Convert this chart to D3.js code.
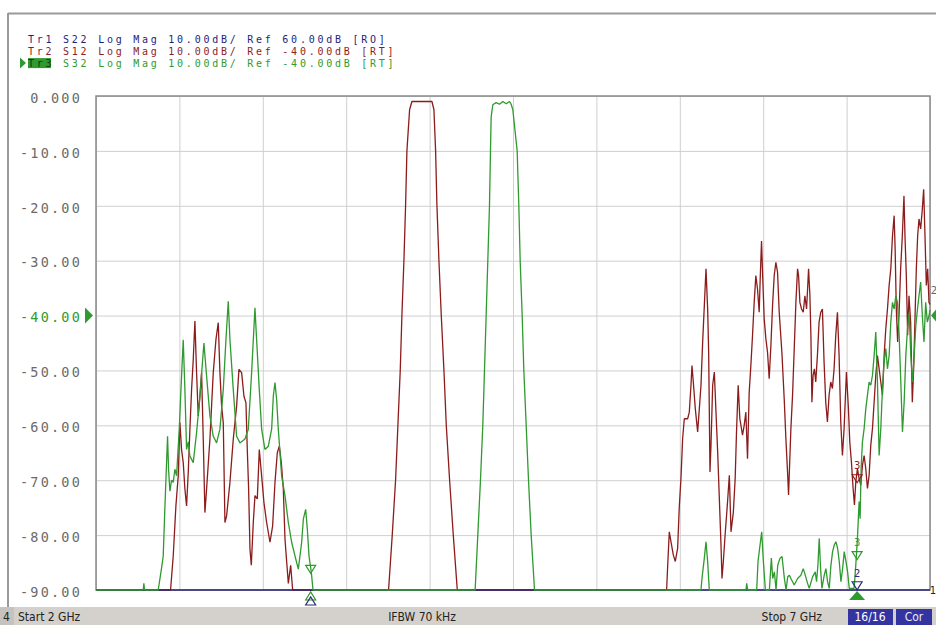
<html>
<head>
    <script src="https://d3js.org/d3.v7.min.js"></script>
</head>
<style>
    body { margin: 0; background: #fff; }
    .gridlines line { stroke: #cfcfcf; }
    .gridlines .domain { stroke: none; }
    .y-axis .domain { stroke: none; }
    .y-axis text { font-family: "DejaVu Sans Mono"; font-size: 13.5px; letter-spacing: 2.2px; fill: #6a6a6a; }
</style>
<body>
<svg width="936" height="625" id="vna"></svg>
<script>
// ---- data (GHz, dB) ----
const startGHz = 2, stopGHz = 7;
const yTicks = [0, -10, -20, -30, -40, -50, -60, -70, -80, -90];
const xGrid = [2, 2.5, 3, 3.5, 4, 4.5, 5, 5.5, 6, 6.5, 7];

const headerNames = ["Tr1", "Tr2", "Tr3"];
const headerLines = [
    " S22 Log Mag 10.00dB/ Ref 60.00dB [RO]",
    " S12 Log Mag 10.00dB/ Ref -40.00dB [RT]",
    " S32 Log Mag 10.00dB/ Ref -40.00dB [RT]"
];
const headerColors = ["#1d1f78", "#8c1c1c", "#2f9a2f"];

// Tr1 S22 sits off the bottom of the screen
const tr1Freq = [2, 7];
const tr1Db = [-90, -90];

// Tr2 S12 (dark red)
const tr2Freq = [2.0, 2.447, 2.463, 2.479, 2.493, 2.503, 2.513, 2.523, 2.533, 2.543, 2.553, 2.563, 2.573, 2.583, 2.593, 2.603, 2.613, 2.623, 2.633, 2.643, 2.653, 2.663, 2.683, 2.703, 2.719, 2.733, 2.743, 2.753, 2.763, 2.773, 2.783, 2.803, 2.823, 2.843, 2.857, 2.873, 2.887, 2.899, 2.907, 2.915, 2.923, 2.931, 2.943, 2.953, 2.967, 2.979, 2.993, 3.007, 3.023, 3.043, 3.059, 3.073, 3.087, 3.099, 3.111, 3.123, 3.133, 3.143, 3.153, 3.167, 3.179,
    3.754, 3.776, 3.796, 3.810, 3.824, 3.834, 3.846, 3.856, 3.864, 3.880, 3.894, 4.014, 4.026, 4.036, 4.044, 4.056, 4.070, 4.086, 4.100, 4.120, 4.142, 4.166,
    5.421, 5.427, 5.437, 5.447, 5.461, 5.473, 5.487, 5.497, 5.507, 5.517, 5.527, 5.547, 5.557, 5.567, 5.573, 5.581, 5.593, 5.607, 5.617, 5.627, 5.637, 5.647, 5.657, 5.667, 5.673, 5.681, 5.687, 5.697, 5.707, 5.717, 5.727, 5.737, 5.747, 5.753, 5.761, 5.773, 5.785, 5.797, 5.807, 5.821, 5.832, 5.840, 5.850, 5.860, 5.876, 5.886, 5.896, 5.906, 5.916, 5.926, 5.936, 5.946, 5.956, 5.966, 5.976, 5.982, 5.990, 5.996, 6.006, 6.016, 6.026, 6.036, 6.046, 6.056, 6.066, 6.076, 6.086, 6.096, 6.112, 6.126, 6.136, 6.146, 6.152,
    6.166, 6.176, 6.186, 6.196, 6.206, 6.212, 6.220, 6.230, 6.240, 6.250, 6.260, 6.266, 6.272, 6.280, 6.286, 6.292, 6.299, 6.307, 6.315, 6.325, 6.335, 6.345, 6.355, 6.365, 6.375, 6.385, 6.395, 6.405, 6.415, 6.425, 6.435, 6.445, 6.455, 6.465, 6.475, 6.485, 6.499, 6.511, 6.519, 6.529, 6.539, 6.547, 6.555, 6.565, 6.575, 6.585, 6.595, 6.605, 6.615, 6.625, 6.635, 6.645, 6.655, 6.665, 6.675, 6.685, 6.695, 6.705, 6.715, 6.725, 6.735, 6.745, 6.755, 6.765, 6.775, 6.785, 6.791, 6.798, 6.806, 6.814, 6.824, 6.834, 6.844, 6.850, 6.858, 6.866, 6.874, 6.884, 6.894, 6.902, 6.910, 6.918, 6.926, 6.934, 6.944, 6.954, 6.962, 6.970, 6.978, 6.986, 6.994, 7.0];
const tr2Db = [-90, -90, -83.8, -74.7, -69.2, -59.5, -64.4, -66.8, -71.6, -74.7, -68.6, -60.7, -53.5, -48, -41, -50.4, -58.3, -54.7, -50.4, -62.5, -75.9, -71.6, -62.5, -50.4, -44.4, -41.3, -50.4, -56.5, -59.5, -77.7, -76.5, -70.4, -62.5, -56.5, -49.8, -50.4, -54.7, -55.9, -64.4, -71.6, -82.5, -85.5, -77.7, -72.8, -73.4, -64.4, -69.2, -74.1, -77.7, -81.3, -78.3, -70.4, -65, -63.8, -66.8, -71.6, -80.7, -84.8, -88.8, -85.5, -90,
    -90, -80, -70, -60, -50, -40, -30, -20, -10, -2.5, -1.0, -1.0, -2.5, -10, -20, -30, -40, -50, -60, -70, -80, -90,
    -90, -85.8, -79.4, -81.2, -83.6, -84.8, -82.4, -74.8, -69.7, -62.4, -58.8, -58.8, -57.6, -52.7, -49.1, -52.1, -57, -61.2, -57, -52.7, -44.8, -38.2, -31.5, -38.8, -46.7, -68.5, -63.6, -52.7, -50.3, -57.6, -64.8, -73.3, -81.8, -87.9, -84.8, -79.4, -74.5, -69.1, -79.4, -75.8, -69.7, -61.2, -52.7, -58.8, -61.8, -60, -57.6, -66.1, -54, -49.1, -43.6, -37.6, -32.7, -35.2, -39.4, -33.3, -26.4, -32.1, -40.6, -44.2, -46.7, -51.5, -45.5, -38.2, -32.7, -30.3, -32.1, -39.4, -46.7, -55.2, -62.4, -68.5, -72.7,
    -60.6, -54.5, -46.1, -37.6, -31.5, -32.7, -37.6, -38.8, -39.4, -36.4, -38.8, -35.2, -31.5, -36.4, -43.6, -55.8, -50.9, -49.7, -52.1, -47.3, -41.2, -39.4, -38.8, -48.5, -55.8, -59.4, -54.5, -52.1, -53.3, -49.7, -43.6, -39.4, -47.3, -59.4, -65.5, -60.6, -50.3, -57, -63, -66.7, -71.5, -74.5, -70.3, -67.9, -69.7, -70.9, -67.3, -65.5, -67.9, -71.5, -69.1, -63.6, -60.6, -55.8, -50.9, -47.3, -49.7, -52.1, -54.5, -47.3, -42.4, -38.8, -34.5, -31.5, -25.5, -21.8, -27.9, -38.8, -44.8, -40, -31.5, -25.5, -18.2, -25.5, -32.7, -43.6, -36.4, -41.2, -55.8, -49.7, -40.6, -31.5, -25.5, -22.4, -24.2, -20.6, -17, -25.5, -34.5, -31.5, -37.6, -38];

// Tr3 S32 (green)
const tr3Freq = [2.0, 2.283, 2.287, 2.291, 2.373, 2.393, 2.403, 2.413, 2.423, 2.429, 2.435, 2.443, 2.453, 2.463, 2.473, 2.483, 2.499, 2.513, 2.523, 2.533, 2.543, 2.553, 2.563, 2.583, 2.603, 2.623, 2.647, 2.663, 2.683, 2.703, 2.723, 2.743, 2.763, 2.779, 2.793, 2.803, 2.823, 2.843, 2.863, 2.893, 2.913, 2.933, 2.953, 2.963, 2.979, 2.993, 3.013, 3.033, 3.053, 3.063, 3.073, 3.083, 3.093, 3.113, 3.133, 3.153, 3.173, 3.193, 3.213, 3.233, 3.243, 3.257, 3.267, 3.277, 3.291, 3.301,
    4.273, 4.289, 4.305, 4.319, 4.329, 4.339, 4.349, 4.359, 4.365, 4.369, 4.379, 4.399, 4.419, 4.439, 4.459, 4.479, 4.489, 4.499, 4.525, 4.535, 4.543, 4.555, 4.565, 4.579, 4.593, 4.609, 4.629,
    5.627, 5.633, 5.647, 5.657, 5.667, 5.677, 5.897, 5.901, 5.907, 5.961, 5.969, 5.981, 5.991, 6.001, 6.013, 6.037, 6.049, 6.057, 6.067, 6.077, 6.087, 6.101, 6.113, 6.127, 6.137, 6.147, 6.157,
    6.166, 6.186, 6.206, 6.226, 6.240, 6.252, 6.266, 6.276, 6.296, 6.312, 6.320, 6.328, 6.336, 6.344, 6.352, 6.366, 6.376, 6.386, 6.396, 6.406, 6.416, 6.426, 6.436, 6.446, 6.456, 6.466, 6.476, 6.486, 6.496, 6.506, 6.516, 6.545, 6.555, 6.565, 6.575, 6.581, 6.587, 6.595, 6.605, 6.615, 6.625, 6.635, 6.645, 6.655, 6.665, 6.675, 6.685, 6.695, 6.705, 6.715, 6.725, 6.735, 6.745, 6.755, 6.765, 6.775, 6.785, 6.795, 6.805, 6.815, 6.825, 6.835, 6.845, 6.855, 6.865, 6.875, 6.885, 6.895, 6.905, 6.915, 6.925, 6.934, 6.944, 6.954, 6.964, 6.974, 6.984, 6.994, 7.0];
const tr3Db = [-90, -90, -88.8, -90, -90, -86, -83.8, -75, -66.8, -62, -68, -72, -70, -70.4, -68, -69.2, -60.7, -51, -44.4, -53.5, -64.4, -63, -65.6, -66.8, -61.3, -54.7, -45, -51, -58.3, -62, -63.2, -60.7, -53.5, -44.4, -37.4, -44.4, -53.5, -62, -63.2, -62.5, -60.7, -50.4, -38.6, -44.4, -53.5, -60.7, -64.4, -63.8, -60.7, -54.7, -52.2, -55.3, -60.7, -69.2, -72.8, -77.7, -81.3, -83.8, -86.2, -81.3, -77.1, -75.3, -78.9, -83.8, -86.8, -90,
    -90, -80, -70, -60, -50, -40, -30, -20, -10, -3.8, -1.6, -1.2, -1.5, -1.0, -1.4, -1.0, -1.5, -2.5, -10, -20, -30, -40, -50, -60, -70, -80, -90,
    -90, -87.9, -84.2, -81.2, -84.8, -90, -90, -88.8, -90, -90, -84.8, -81.8, -79.4, -84.8, -90, -90, -84.2, -87.9, -86.7, -90, -85.5, -84.2, -83.9, -87.9, -90, -87.6, -87.3,
    -87.9, -89.1, -87.9, -87.3, -86.1, -87.3, -88.8, -89.7, -87.6, -86.7, -88.5, -85.5, -80.6, -86.1, -89.7, -87.3, -86.1, -88.5, -89.7, -85.5, -83, -81.8, -81.2, -82.4, -84.8, -88.5, -86.1, -83, -84.8, -86.7, -89.7, -89.7, -85.5, -80.6, -73.9, -77, -67.9, -63, -60.6, -57, -54.5, -52.1, -52.7, -50.9, -47.3, -43, -52.1, -65.5, -60.6, -53.3, -48.5, -46, -49.7, -47.3, -41.2, -37.6, -38.8, -36.4, -37.6, -43.6, -52.1, -61.2, -55.8, -47.3, -42.4, -39.4, -47.3, -52.1, -47.3, -41.8, -38.8, -36.4, -33.9, -40, -44.8, -37.6, -41.2, -40, -39];

// ---- layout ----
const svg = d3.select('svg#vna');
const plot = { left: 96, right: 930, top: 96, bottom: 590 };

const x = d3.scaleLinear().domain([startGHz, stopGHz]).range([plot.left, plot.right]);
const y = d3.scaleLinear().domain([-90, 0]).range([plot.bottom, plot.top]).clamp(true);

// outer frame
svg.append('line').attr('x1', 8).attr('x2', 936).attr('y1', 13.5).attr('y2', 13.5)
    .attr('stroke', '#9a9a9a').attr('stroke-width', 2);
svg.append('line').attr('x1', 8).attr('x2', 8).attr('y1', 13).attr('y2', 608)
    .attr('stroke', '#9a9a9a').attr('stroke-width', 2);

// header
const lineGap = 11.8;
let header = svg.append('g').attr('class', 'header');
header.append('rect').attr('x', 28).attr('y', 43 + 2 * lineGap - 8.5).attr('width', 23).attr('height', 10).attr('fill', '#2f9a2f');
header.append('path').attr('d', `M20,${43 + 2 * lineGap - 9} L26,${43 + 2 * lineGap - 3.5} L20,${43 + 2 * lineGap + 2} Z`).attr('fill', '#2f9a2f');
let hl = header.selectAll('text')
    .data(headerLines)
    .join('text')
    .attr('x', 28)
    .attr('y', (d, i) => 43 + i * lineGap)
    .attr('fill', (d, i) => headerColors[i])
    .style('font-family', '"DejaVu Sans Mono"')
    .style('font-size', '10px')
    .style('letter-spacing', '2.75px')
    .style('white-space', 'pre');
hl.append('tspan')
    .attr('fill', (d, i) => i === 2 ? '#0e3a0e' : headerColors[i])
    .text((d, i) => headerNames[i]);
hl.append('tspan').text(d => d);

// gridlines
svg.append('g')
    .attr('class', 'gridlines')
    .attr('transform', `translate(${plot.left},0)`)
    .call(d3.axisLeft(y).tickValues(yTicks).tickFormat('').tickSize(-(plot.right - plot.left)));
svg.append('g')
    .attr('class', 'gridlines')
    .attr('transform', `translate(0,${plot.top})`)
    .call(d3.axisBottom(x).tickValues(xGrid).tickFormat('').tickSize(plot.bottom - plot.top));

// plot border
svg.append('rect')
    .attr('x', plot.left).attr('y', plot.top)
    .attr('width', plot.right - plot.left).attr('height', plot.bottom - plot.top)
    .attr('fill', 'none').attr('stroke', '#8a8a8a').attr('stroke-width', 1.5);

// y labels
let yAxis = svg.append('g')
    .attr('class', 'y-axis')
    .attr('transform', `translate(82,2)`)
    .call(d3.axisLeft(y).tickValues(yTicks).tickSize(0).tickPadding(0)
        .tickFormat(d => d === 0 ? '0.000' : d.toFixed(2)));
yAxis.selectAll('.tick text').filter(d => d === -40).style('fill', '#2f9a2f');

// reference arrows (-40 dB)
svg.append('path')
    .attr('d', `M85,${y(-40) - 8} L93,${y(-40)} L85,${y(-40) + 8} Z`)
    .attr('fill', '#2f9a2f');
svg.append('path')
    .attr('d', `M936,${y(-40) - 6} L931,${y(-40)} L936,${y(-40) + 6} Z`)
    .attr('fill', '#2f9a2f');

// traces: Tr2 under Tr1, Tr3 on top
const line = d3.line().x(d => x(d[0])).y(d => y(d[1]));
const traces = [
    { f: tr2Freq, v: tr2Db, color: '#8c1c1c' },
    { f: tr1Freq, v: tr1Db, color: '#2e2a78' },
    { f: tr3Freq, v: tr3Db, color: '#2f9a2f' }
];
svg.append('g').selectAll('path')
    .data(traces)
    .join('path')
    .attr('d', t => line(d3.zip(t.f, t.v)))
    .attr('fill', 'none')
    .attr('stroke', t => t.color)
    .attr('stroke-width', 1.3)
    .attr('stroke-linejoin', 'bevel');

// markers
const mk1 = x(3.287), mk2 = x(6.563);
const tri = (cx, cy, up) => up
    ? `M${cx - 5},${cy + 8} L${cx + 5},${cy + 8} L${cx},${cy} Z`
    : `M${cx - 5},${cy} L${cx + 5},${cy} L${cx},${cy + 8} Z`;
let mk = svg.append('g').attr('fill', 'none').attr('stroke-width', 1.2);
mk.append('path').attr('d', tri(mk1, y(-85.5), false)).attr('stroke', '#2f9a2f');
mk.append('path').attr('d', tri(mk1, 592, true)).attr('stroke', '#2f9a2f');
mk.append('path').attr('d', tri(mk1, 597, true)).attr('stroke', '#2e2a78');
mk.append('path').attr('d', tri(mk2, y(-83), false)).attr('stroke', '#2f9a2f');
mk.append('path').attr('d', tri(mk2, y(-88.5), false)).attr('stroke', '#2e2a78');
mk.append('path').attr('d', tri(mk2, y(-69), false)).attr('stroke', '#8c1c1c');
svg.append('path').attr('d', `M${mk2 - 8},600 L${mk2 + 8},600 L${mk2},591 Z`).attr('fill', '#2f9a2f');
const mkText = [
    { t: '3', px: mk2, py: y(-82), c: '#2f9a2f' },
    { t: '2', px: mk2, py: y(-87.6), c: '#2e2a78' },
    { t: '3', px: mk2, py: y(-68), c: '#8c1c1c' },
    { t: '2', px: 934, py: 294, c: '#666' },
    { t: '1', px: 933, py: 594, c: '#222' }
];
svg.append('g').selectAll('text')
    .data(mkText)
    .join('text')
    .attr('x', d => d.px).attr('y', d => d.py)
    .attr('text-anchor', 'middle')
    .attr('fill', d => d.c)
    .style('font-family', '"DejaVu Sans"')
    .style('font-size', '10px')
    .text(d => d.t);

// status bar
let bar = svg.append('g');
bar.append('rect').attr('x', 0).attr('y', 607).attr('width', 936).attr('height', 18).attr('fill', '#d4d1cc');
bar.append('rect').attr('x', 0).attr('y', 607).attr('width', 14).attr('height', 18).attr('fill', '#c6c3be');
bar.append('rect').attr('x', 848).attr('y', 609).attr('width', 45).attr('height', 16).attr('fill', '#3434a0');
bar.append('rect').attr('x', 896).attr('y', 609).attr('width', 36).attr('height', 16).attr('fill', '#3434a0');
const barText = [
    { t: '4', px: 3, anchor: 'start', c: '#222' },
    { t: 'Start 2 GHz', px: 18, anchor: 'start', c: '#222' },
    { t: 'IFBW 70 kHz', px: 422, anchor: 'middle', c: '#222' },
    { t: 'Stop 7 GHz', px: 822, anchor: 'end', c: '#222' },
    { t: '16/16', px: 870, anchor: 'middle', c: '#fff' },
    { t: 'Cor', px: 914, anchor: 'middle', c: '#e8e8f4' }
];
bar.selectAll('text')
    .data(barText)
    .join('text')
    .attr('x', d => d.px).attr('y', 621)
    .attr('text-anchor', d => d.anchor)
    .attr('fill', d => d.c)
    .style('font-family', '"DejaVu Sans Condensed", "DejaVu Sans"')
    .style('font-size', '12px')
    .text(d => d.t);
</script>
</body>
</html>
